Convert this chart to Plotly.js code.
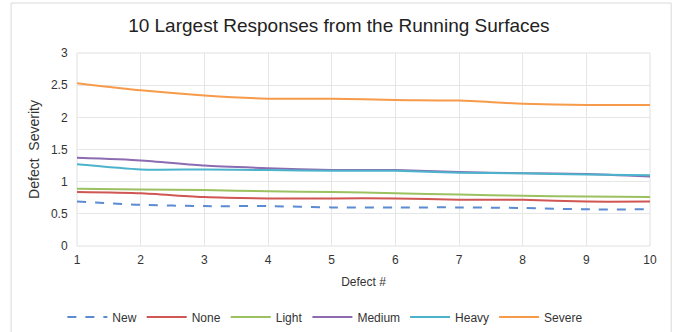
<!DOCTYPE html>
<html><head><meta charset="utf-8">
<script src="https://cdn.plot.ly/plotly-3.0.1.min.js"></script>
<style>html,body{margin:0;padding:0;background:#fff}#chart{width:675px;height:332px}</style>
</head><body><div id="chart"></div>
<script>
const defects = [1,2,3,4,5,6,7,8,9,10];
const newVals    = [0.69,0.64,0.62,0.62,0.60,0.60,0.60,0.59,0.57,0.57];
const noneVals   = [0.84,0.82,0.76,0.74,0.74,0.74,0.72,0.72,0.69,0.69];
const lightVals  = [0.89,0.88,0.87,0.85,0.84,0.82,0.80,0.78,0.77,0.76];
const mediumVals = [1.37,1.33,1.25,1.21,1.18,1.18,1.15,1.13,1.12,1.08];
const heavyVals  = [1.27,1.19,1.19,1.18,1.17,1.17,1.14,1.13,1.11,1.10];
const severeVals = [2.53,2.42,2.34,2.29,2.29,2.27,2.26,2.21,2.19,2.19];
const seriesNames = ['New','None','Light','Medium','Heavy','Severe'];
const seriesVals = [newVals,noneVals,lightVals,mediumVals,heavyVals,severeVals];
const colors = ['#5b8bd0','#d05653','#9cc160','#8c6bb1','#4bb3cc','#f79a4a'];
const dashes = ['dash','solid','solid','solid','solid','solid'];
const yTicks = [0,0.5,1,1.5,2,2.5,3];

const traces = seriesNames.map((n,i)=>({
  x: defects, y: seriesVals[i], name: n, type:'scatter', mode:'lines',
  line:{color:colors[i], width:2, dash:dashes[i], shape:'spline', smoothing:0.6}
}));

const layout = {
  width:675, height:332,
  margin:{l:77, r:25, t:53, b:86, autoexpand:false},
  paper_bgcolor:'#fff', plot_bgcolor:'#fff',
  font:{family:'Liberation Sans, Arial, sans-serif', color:'#404040', size:11},
  title:{text:'10 Largest Responses from the Running Surfaces', font:{size:19, color:'#222'}, x:0.502, xanchor:'center', y:0.925, yanchor:'middle'},
  xaxis:{range:[1,10], tickvals:defects, showgrid:true, gridcolor:'#e6e6e6', zeroline:false,
    showline:false, ticks:'outside', ticklen:3, tickcolor:'rgba(0,0,0,0)', tickfont:{size:12, color:'#333'},
    title:{text:'Defect #', font:{size:12, color:'#333'}, standoff:11}},
  yaxis:{range:[0,3], tickvals:yTicks, ticktext:yTicks.map(String), showgrid:true, gridcolor:'#e6e6e6', zeroline:false,
    showline:false, ticks:'outside', ticklen:6, tickcolor:'rgba(0,0,0,0)', tickfont:{size:12, color:'#333'},
    title:{text:'Defect  Severity', font:{size:14, color:'#333'}, standoff:8}},
  legend:{orientation:'h', x:0.482, xref:'container', xanchor:'center', yref:'container', y:0.045, yanchor:'middle',
    itemwidth:40, font:{size:12, color:'#333'}, traceorder:'normal'},
  shapes:[
    {type:'rect', xref:'paper', yref:'paper', x0:0, x1:1, y0:0, y1:1, line:{color:'#e0e0e0', width:1}, layer:'below'},
    {type:'rect', xref:'paper', yref:'paper', x0:-0.115, x1:1.037, y0:-0.46, y1:1.259, line:{color:'#d9d9d9', width:1}}
  ]
};
Plotly.newPlot('chart', traces, layout, {displayModeBar:false, staticPlot:true});
</script></body></html>
